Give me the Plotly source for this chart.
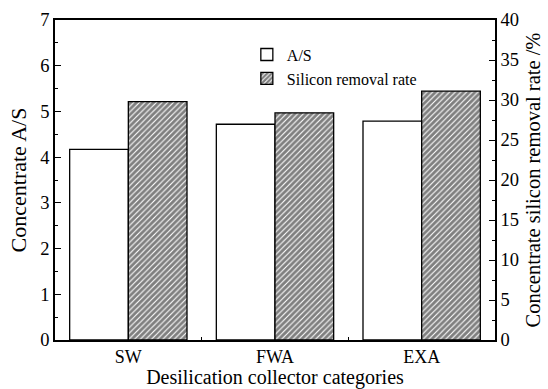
import plotly.graph_objects as go

# Desilication collector categories and measured results
categories = ["SW", "FWA", "EXA"]
as_ratio = [4.17, 4.72, 4.79]            # concentrate A/S (left axis)
removal_rate = [29.8, 28.4, 31.1]        # concentrate silicon removal rate, % (right axis)

FONT = "Liberation Serif"

fig = go.Figure()

fig.add_trace(go.Bar(
    x=categories, y=as_ratio, name="A/S",
    width=0.4, offset=-0.4,
    marker=dict(color="white", line=dict(color="black", width=1.3)),
    yaxis="y",
))
fig.add_trace(go.Bar(
    x=categories, y=removal_rate, name="Silicon removal rate",
    width=0.4, offset=0.0,
    marker=dict(color="white", line=dict(color="black", width=1.3),
                pattern=dict(shape="/", fgcolor="black", bgcolor="white",
                             size=4, solidity=0.72)),
    yaxis="y2",
))

fig.update_layout(
    width=548, height=389,
    margin=dict(l=55, r=53, t=20, b=49),
    paper_bgcolor="white", plot_bgcolor="white",
    font=dict(family=FONT, size=18, color="black"),
    barmode="overlay",
    showlegend=True,
    legend=dict(x=0.436, y=0.945, xanchor="left", yanchor="top",
                bgcolor="rgba(0,0,0,0)", font=dict(size=16, family=FONT),
                tracegroupgap=0, itemwidth=30),
    xaxis=dict(
        type="category", range=[-0.5, 2.5], automargin=False,
        showline=True, linecolor="black", linewidth=1.5, mirror=True,
        ticks="inside", tickson="boundaries", ticklen=3, tickcolor="black",
        showgrid=False, zeroline=False,
        tickfont=dict(size=18),
        title=dict(text="Desilication collector categories", font=dict(size=20), standoff=6),
    ),
    yaxis=dict(
        range=[0, 7], dtick=1, automargin=False,
        showline=True, linecolor="black", linewidth=1.5,
        ticks="inside", ticklen=6, tickcolor="black",
        minor=dict(dtick=0.5, ticks="inside", ticklen=3, tickcolor="black"),
        showgrid=False, zeroline=False,
        tickfont=dict(size=18.5),
        title=dict(text="Concentrate A/S", font=dict(size=22), standoff=8),
    ),
    yaxis2=dict(
        range=[0, 40], dtick=5, overlaying="y", side="right", automargin=False,
        showline=True, linecolor="black", linewidth=1.5,
        ticks="inside", ticklen=6, tickcolor="black",
        minor=dict(dtick=2.5, ticks="inside", ticklen=3, tickcolor="black"),
        showgrid=False, zeroline=False,
        tickfont=dict(size=18.5),
        title=dict(text="Concentrate silicon removal rate /%", font=dict(size=20.5), standoff=8),
    ),
)

fig.write_html("out.html")
